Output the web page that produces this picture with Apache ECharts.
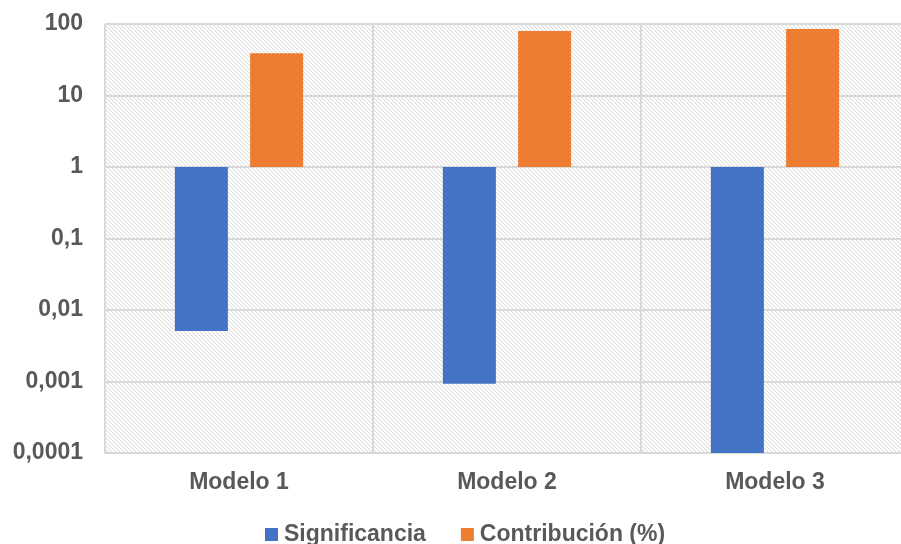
<!DOCTYPE html>
<html>
<head>
<meta charset="utf-8">
<script src="https://cdn.jsdelivr.net/npm/echarts@6/dist/echarts.min.js"></script>
<style>
  html, body { margin: 0; padding: 0; background: #fff; }
  #chartArea { width: 901px; height: 544px; }
</style>
</head>
<body>
<div id="chartArea"></div>
<script>
var categories = ['Modelo 1', 'Modelo 2', 'Modelo 3'];
var significancia = [0.0051, 0.00093, 0.0001];
var contribucion = [39, 80, 85];

// hatch pattern for the plot area
function makeHatch() {
    var c = document.createElement('canvas');
    c.width = 8;
    c.height = 8;
    var ctx = c.getContext('2d');
    ctx.fillStyle = '#ffffff';
    ctx.fillRect(0, 0, 8, 8);
    for (var y = 0; y < 8; y++) {
        for (var x = 0; x < 8; x++) {
            var d = ((x - y) % 4 + 4) % 4;
            if (d == 0) {
                ctx.fillStyle = '#dcdcdc';
                ctx.fillRect(x, y, 1, 1);
            } else if (d == 1) {
                ctx.fillStyle = '#f6f6f6';
                ctx.fillRect(x, y, 1, 1);
            }
        }
    }
    return c;
}

function fmt(v) {
    var map = {100: '100', 10: '10', 1: '1', 0.1: '0,1', 0.01: '0,01', 0.001: '0,001', 0.0001: '0,0001'};
    var key = Number(v.toPrecision(6));
    return map[key] !== undefined ? map[key] : String(v).replace('.', ',');
}

var labelFont = {
    fontFamily: 'Liberation Sans, Arial, sans-serif',
    fontWeight: 'bold',
    fontSize: 23,
    color: '#595959'
};

var option = {
    animation: false,
    grid: {
        left: 105,
        width: 804,
        top: 24,
        bottom: 91,
        outerBoundsMode: 'none',
        containLabel: false,
        show: true,
        borderWidth: 0,
        backgroundColor: {image: makeHatch(), repeat: 'repeat'}
    },
    legend: {
        top: 518,
        left: 260,
        itemWidth: 13,
        itemHeight: 13,
        itemGap: 35,
        icon: 'rect',
        textStyle: {
            fontFamily: 'Liberation Sans, Arial, sans-serif',
            fontWeight: 'bold',
            fontSize: 23,
            color: '#595959',
            padding: [0, 0, 0, 1]
        },
        data: ['Significancia', 'Contribución (%)']
    },
    xAxis: {
        type: 'category',
        data: categories,
        axisLine: {show: true, onZero: false, lineStyle: {color: '#d9d9d9', width: 2}},
        axisTick: {show: false},
        splitLine: {show: true, interval: 0, lineStyle: {color: '#d9d9d9', width: 2}},
        axisLabel: Object.assign({margin: 18}, labelFont)
    },
    yAxis: {
        type: 'log',
        logBase: 10,
        min: 0.0001,
        max: 100,
        axisLine: {show: false},
        axisTick: {show: false},
        splitLine: {show: true, lineStyle: {color: '#d9d9d9', width: 2}},
        axisLabel: Object.assign({margin: 22}, labelFont)
    },
    series: [
        {
            name: 'Significancia',
            type: 'bar',
            data: significancia,
            barWidth: 53,
            barGap: '42%',
            itemStyle: {color: '#4472c4'}
        },
        {
            name: 'Contribución (%)',
            type: 'bar',
            data: contribucion,
            barWidth: 53,
            barGap: '42%',
            itemStyle: {color: '#ed7d31'}
        }
    ]
};
option.yAxis.axisLabel.formatter = fmt;

var myChart = echarts.init(document.getElementById('chartArea'));
myChart.setOption(option);
</script>
</body>
</html>
